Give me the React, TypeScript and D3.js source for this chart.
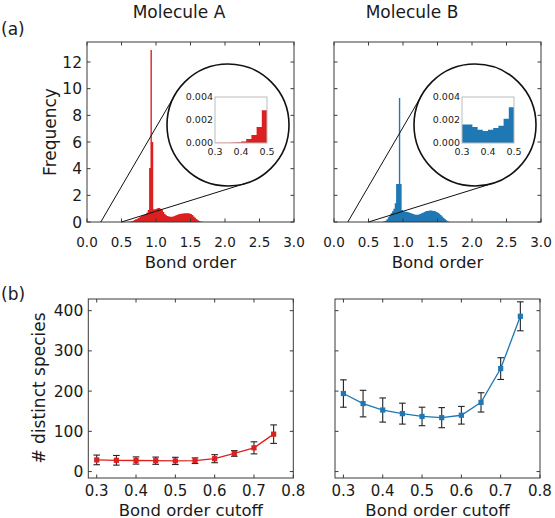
import React from "react";
import * as d3 from "d3";

// ---- data ----
const binWidth = 0.02;

// Molecule A bond order histogram (bins of 0.02 starting at 0.60)
const histStartA = 0.6;
const histA = [
  0.02, 0.04, 0.06, 0.1, 0.15, 0.2, 0.25, 0.3, 0.38, 0.45, 0.5, 0.55, 0.6, 0.7,
  0.9, 4.05, 12.9, 6.0, 0.95, 0.95, 1.0, 1.05, 1.05, 1.0, 0.9, 0.75, 0.6, 0.5,
  0.45, 0.42, 0.4, 0.4, 0.42, 0.45, 0.5, 0.55, 0.58, 0.6, 0.62, 0.64, 0.65,
  0.66, 0.66, 0.66, 0.64, 0.6, 0.52, 0.42, 0.32, 0.22, 0.14, 0.08, 0.04, 0.02,
];

// Molecule B bond order histogram (bins of 0.02 starting at 0.70)
const histStartB = 0.7;
const histB = [
  0.02, 0.05, 0.1, 0.2, 0.35, 0.5, 0.65, 0.8, 1.0, 1.4, 2.85, 2.85, 9.3, 2.85,
  0.9, 0.8, 0.78, 0.76, 0.75, 0.72, 0.68, 0.64, 0.6, 0.57, 0.55, 0.55, 0.56,
  0.6, 0.65, 0.7, 0.75, 0.8, 0.83, 0.85, 0.86, 0.86, 0.85, 0.83, 0.8, 0.75,
  0.7, 0.62, 0.52, 0.42, 0.32, 0.22, 0.13, 0.06, 0.02,
];

// zoomed insets, 0.3 - 0.5 (values in 1e-3)
const insetStart = 0.3;
const insetA = [0.02, 0.02, 0.03, 0.04, 0.06, 0.12, 0.35, 0.7, 1.4, 2.85];
const insetB = [1.6, 1.6, 1.4, 1.15, 1.05, 1.15, 1.3, 1.5, 2.1, 3.1];

// distinct species vs cutoff
const cutoffs = [0.3, 0.35, 0.4, 0.45, 0.5, 0.55, 0.6, 0.65, 0.7, 0.75];
const speciesA = [29, 28, 27.5, 27, 26.5, 27, 32, 45, 59, 93];
const errA = [12, 12, 9, 9, 9, 7, 10, 7, 15, 23];
const speciesB = [194, 169, 153, 144, 137, 134, 140, 172, 256, 386];
const errB = [34, 33, 30, 26, 23, 25, 22, 24, 27, 36];

const histTicksX = [0, 0.5, 1, 1.5, 2, 2.5, 3];
const histTicksY = [0, 2, 4, 6, 8, 10, 12];
const insetTicksX = [0.3, 0.4, 0.5];
const insetTicksY = [0, 2, 4];
const cutTicksX = [0.3, 0.4, 0.5, 0.6, 0.7, 0.8];
const cutTicksY = [0, 100, 200, 300, 400];

const RED = "#dc1f1f";
const BLUE = "#1f77b4";
const FRAME = "#3a3a3a";
const TXT = "#1a1a1a";
const FONT = "DejaVu Sans";

const fmt1 = d3.format(".1f");

function Frame({ x0, x1, y0, y1 }) {
  return (
    <rect x={x0} y={y1} width={x1 - x0} height={y0 - y1} fill="none" stroke={FRAME} strokeWidth={1} />
  );
}

function HistPanel({ left, start, counts, inset, color, showY }) {
  const x = d3.scaleLinear().domain([0, 3]).range([left, left + 207]);
  const y = d3.scaleLinear().domain([0, 13.5]).range([222, 42]);
  const pts = counts.map((c, i) => ({ e: start + i * binWidth, c }));
  pts.push({ e: start + counts.length * binWidth, c: counts[counts.length - 1] });
  const area = d3
    .area()
    .curve(d3.curveStepAfter)
    .x((d) => x(d.e))
    .y0(y(0))
    .y1((d) => y(d.c));

  // circle + tangent lines
  const cx = left + 141;
  const cy = 125;
  const r = 61;
  const tangent = (px, py, sign) => {
    const dx = px - cx;
    const dy = py - cy;
    const d = Math.hypot(dx, dy);
    const th = Math.atan2(dy, dx);
    const a = Math.acos(r / d) * sign;
    return [cx + r * Math.cos(th + a), cy + r * Math.sin(th + a)];
  };
  const p1 = [x(0.2), y(0)];
  const p2 = [x(0.5), y(0)];
  const t1 = tangent(p1[0], p1[1], 1);
  const t2 = tangent(p2[0], p2[1], -1);

  // inset
  const ix = d3.scaleLinear().domain([0.3, 0.5]).range([left + 128, left + 180]);
  const iy = d3.scaleLinear().domain([0, 4]).range([143, 97]);
  const ipts = inset.map((c, i) => ({ e: insetStart + i * binWidth, c }));
  ipts.push({ e: insetStart + inset.length * binWidth, c: inset[inset.length - 1] });
  const iarea = d3
    .area()
    .curve(d3.curveStepAfter)
    .x((d) => ix(d.e))
    .y0(iy(0))
    .y1((d) => iy(d.c));

  return (
    <g>
      <path d={area(pts)} fill={color} />
      <Frame x0={x(0)} x1={x(3)} y0={y(0)} y1={y(13.5)} />
      {histTicksX.map((t) => (
        <g key={"x" + t}>
          <line x1={x(t)} x2={x(t)} y1={222} y2={218.5} stroke={FRAME} />
          <line x1={x(t)} x2={x(t)} y1={42} y2={45.5} stroke={FRAME} />
          <text x={x(t)} y={247} textAnchor="middle" fontSize={13.5} fill={TXT}>
            {fmt1(t)}
          </text>
        </g>
      ))}
      {histTicksY.map((t) => (
        <g key={"y" + t}>
          <line x1={x(0)} x2={x(0) + 3.5} y1={y(t)} y2={y(t)} stroke={FRAME} />
          <line x1={x(3)} x2={x(3) - 3.5} y1={y(t)} y2={y(t)} stroke={FRAME} />
          {showY && (
            <text x={x(0) - 5} y={y(t)} dy="0.36em" textAnchor="end" fontSize={15.5} fill={TXT}>
              {t}
            </text>
          )}
        </g>
      ))}
      <text x={left + 103.5} y={268} textAnchor="middle" fontSize={16.5} fill={TXT}>
        Bond order
      </text>
      <line x1={p1[0]} y1={p1[1]} x2={t1[0]} y2={t1[1]} stroke="#111" strokeWidth={1} />
      <line x1={p2[0]} y1={p2[1]} x2={t2[0]} y2={t2[1]} stroke="#111" strokeWidth={1} />
      <circle cx={cx} cy={cy} r={r} fill="none" stroke="#111" strokeWidth={1.6} />
      <rect x={ix(0.3)} y={iy(4)} width={ix(0.5) - ix(0.3)} height={iy(0) - iy(4)} fill="#fff" />
      <path d={iarea(ipts)} fill={color} />
      <rect
        x={ix(0.3)}
        y={iy(4)}
        width={ix(0.5) - ix(0.3)}
        height={iy(0) - iy(4)}
        fill="none"
        stroke="#bbb"
        strokeWidth={1}
      />
      {insetTicksX.map((t) => (
        <text key={"ix" + t} x={ix(t)} y={155} textAnchor="middle" fontSize={9.5} fill={TXT}>
          {fmt1(t)}
        </text>
      ))}
      {insetTicksY.map((t) => (
        <text key={"iy" + t} x={ix(0.3) - 2} y={iy(t)} dy="0.36em" textAnchor="end" fontSize={9.5} fill={TXT}>
          {d3.format(".3f")(t / 1000)}
        </text>
      ))}
    </g>
  );
}

function CutoffPanel({ left, vals, errs, color, showY }) {
  const x = d3.scaleLinear().domain([0.2786, 0.8]).range([left, left + 205]);
  const y = d3.scaleLinear().domain([-16, 429]).range([478, 299]);
  const data = cutoffs.map((c, i) => ({ c, v: vals[i], e: errs[i] }));
  const line = d3
    .line()
    .x((d) => x(d.c))
    .y((d) => y(d.v));
  return (
    <g>
      <Frame x0={x(0.2786)} x1={x(0.8)} y0={y(-16)} y1={y(429)} />
      {cutTicksX.map((t) => (
        <g key={"x" + t}>
          <line x1={x(t)} x2={x(t)} y1={478} y2={474.5} stroke={FRAME} />
          <line x1={x(t)} x2={x(t)} y1={299} y2={302.5} stroke={FRAME} />
          <text x={x(t)} y={496} textAnchor="middle" fontSize={15} fill={TXT}>
            {fmt1(t)}
          </text>
        </g>
      ))}
      {cutTicksY.map((t) => (
        <g key={"y" + t}>
          <line x1={x(0.2786)} x2={x(0.2786) + 3.5} y1={y(t)} y2={y(t)} stroke={FRAME} />
          <line x1={x(0.8)} x2={x(0.8) - 3.5} y1={y(t)} y2={y(t)} stroke={FRAME} />
          {showY && (
            <text x={x(0.2786) - 5} y={y(t)} dy="0.36em" textAnchor="end" fontSize={15.5} fill={TXT}>
              {t}
            </text>
          )}
        </g>
      ))}
      <path d={line(data)} fill="none" stroke={color} strokeWidth={1.3} />
      {data.map((d) => (
        <g key={d.c} stroke="#222" strokeWidth={1.1}>
          <line x1={x(d.c)} x2={x(d.c)} y1={y(d.v - d.e)} y2={y(d.v + d.e)} />
          <line x1={x(d.c) - 3.3} x2={x(d.c) + 3.3} y1={y(d.v - d.e)} y2={y(d.v - d.e)} />
          <line x1={x(d.c) - 3.3} x2={x(d.c) + 3.3} y1={y(d.v + d.e)} y2={y(d.v + d.e)} />
        </g>
      ))}
      {data.map((d) => (
        <rect key={"m" + d.c} x={x(d.c) - 2.6} y={y(d.v) - 2.6} width={5.2} height={5.2} fill={color} />
      ))}
      <text x={left + 102.5} y={515.5} textAnchor="middle" fontSize={16.5} fill={TXT}>
        Bond order cutoff
      </text>
    </g>
  );
}

export default function App() {
  return (
    <div>
      <style>{`body{margin:0}`}</style>
      <svg width={555} height={518} style={{ display: "block", background: "#fff" }} fontFamily={FONT}>
        <text x={1} y={35} fontSize={17} fill={TXT}>
          (a)
        </text>
        <text x={1} y={300} fontSize={17} fill={TXT}>
          (b)
        </text>
        <text x={179} y={18} textAnchor="middle" fontSize={17} fill={TXT}>
          Molecule A
        </text>
        <text x={412} y={18} textAnchor="middle" fontSize={17} fill={TXT}>
          Molecule B
        </text>
        <text transform="translate(56,132) rotate(-90)" textAnchor="middle" fontSize={17} fill={TXT}>
          Frequency
        </text>
        <text transform="translate(45,388) rotate(-90)" textAnchor="middle" fontSize={17} fill={TXT}>
          # distinct species
        </text>
        <HistPanel left={87} start={histStartA} counts={histA} inset={insetA} color={RED} showY={true} />
        <HistPanel left={334} start={histStartB} counts={histB} inset={insetB} color={BLUE} showY={false} />
        <CutoffPanel left={88.3} vals={speciesA} errs={errA} color={RED} showY={true} />
        <CutoffPanel left={335} vals={speciesB} errs={errB} color={BLUE} showY={false} />
      </svg>
    </div>
  );
}
